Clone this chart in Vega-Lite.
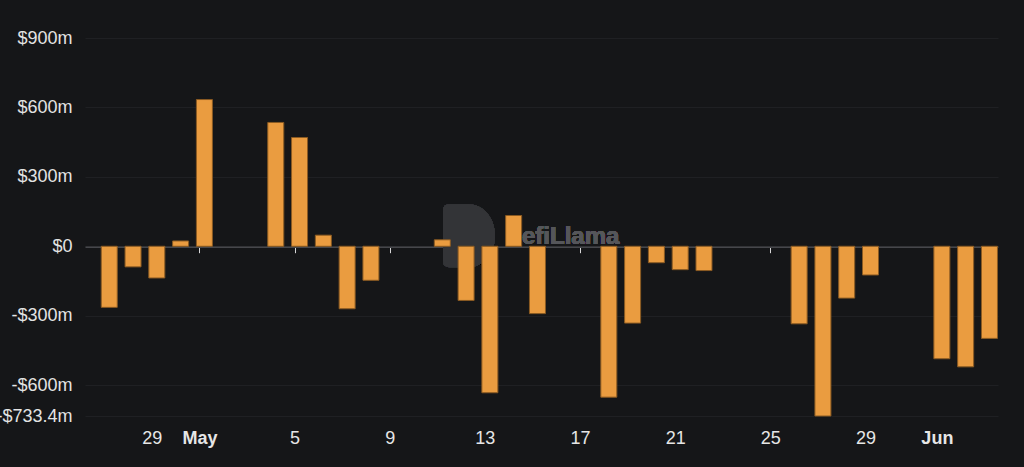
{
  "$schema": "https://vega.github.io/schema/vega-lite/v6.json",
  "width": 913,
  "height": 378,
  "autosize": {"type": "none"},
  "padding": {"left": 85, "top": 38, "right": 26, "bottom": 51},
  "background": "#151618",
  "config": {"view": {"stroke": null}, "font": "Liberation Sans"},
  "data": {
    "values": [
      {"date": "2024-04-27", "value": -264},
      {"date": "2024-04-28", "value": -89},
      {"date": "2024-04-29", "value": -137},
      {"date": "2024-04-30", "value": 23},
      {"date": "2024-05-01", "value": 634},
      {"date": "2024-05-04", "value": 535},
      {"date": "2024-05-05", "value": 470},
      {"date": "2024-05-06", "value": 48},
      {"date": "2024-05-07", "value": -270},
      {"date": "2024-05-08", "value": -147},
      {"date": "2024-05-11", "value": 28},
      {"date": "2024-05-12", "value": -234},
      {"date": "2024-05-13", "value": -633},
      {"date": "2024-05-14", "value": 133},
      {"date": "2024-05-15", "value": -291},
      {"date": "2024-05-18", "value": -652},
      {"date": "2024-05-19", "value": -332},
      {"date": "2024-05-20", "value": -71},
      {"date": "2024-05-21", "value": -101},
      {"date": "2024-05-22", "value": -105},
      {"date": "2024-05-26", "value": -335},
      {"date": "2024-05-27", "value": -733.4},
      {"date": "2024-05-28", "value": -224},
      {"date": "2024-05-29", "value": -124},
      {"date": "2024-06-01", "value": -486},
      {"date": "2024-06-02", "value": -521},
      {"date": "2024-06-03", "value": -398}
    ]
  },
  "layer": [
    {
      "mark": {
        "type": "point",
        "shape": "M -0.825 -0.8 Q -0.825 -1 -0.625 -1 L 0 -1 A 0.825 1 0 0 1 0 1 L -0.625 1 Q -0.825 1 -0.825 0.8 Z",
        "filled": true,
        "color": "#333437",
        "opacity": 1,
        "size": 3969
      },
      "encoding": {
        "x": {
          "datum": {"year": 2024, "month": 5, "date": 12, "hours": 8, "utc": true},
          "type": "temporal",
          "scale": {"type": "utc", "padding": 0, "domain": [{"year": 2024, "month": 4, "date": 26, "hours": 4, "minutes": 35, "utc": true}, {"year": 2024, "month": 6, "date": 3, "hours": 13, "minutes": 40, "utc": true}]}
        },
        "y": {"datum": 46, "type": "quantitative", "scale": {"domain": [-733.4, 900], "nice": false, "zero": false, "padding": 0}}
      }
    },
    {
      "mark": {
        "type": "text",
        "text": "efiLlama",
        "fontSize": 24,
        "fontWeight": "bold",
        "color": "#55565a",
        "align": "left",
        "baseline": "middle"
      },
      "encoding": {
        "x": {
          "datum": {"year": 2024, "month": 5, "date": 14, "hours": 13, "minutes": 28, "utc": true},
          "type": "temporal"
        },
        "y": {"datum": 40, "type": "quantitative"}
      }
    },
    {
      "mark": {
        "type": "bar",
        "color": "#EA9C40",
        "stroke": "#8a5a22",
        "strokeWidth": 1,
        "width": 16,
        "xOffset": 5
      },
      "encoding": {
        "x": {
          "field": "date",
          "type": "temporal",
          "scale": {"type": "utc", "padding": 0, "domain": [{"year": 2024, "month": 4, "date": 26, "hours": 4, "minutes": 35, "utc": true}, {"year": 2024, "month": 6, "date": 3, "hours": 13, "minutes": 40, "utc": true}]},
          "axis": {
            "title": null,
            "orient": "bottom",
            "offset": -169.3,
            "domain": true,
            "domainColor": "#46474b",
            "domainWidth": 1.5,
            "ticks": true,
            "tickSize": 6,
            "tickColor": "#d8d8d8",
            "tickWidth": 1,
            "grid": false,
            "labelPadding": 177,
            "labelFontSize": 18,
            "labelColor": "#e6e6e6",
            "labelFontWeight": {"condition": {"test": "utcdate(datum.value) == 1", "value": "bold"}, "value": "normal"},
            "labelExpr": "utcdate(datum.value) == 1 ? utcFormat(datum.value, '%b') : utcFormat(datum.value, '%-d')",
            "values": [
              {"year": 2024, "month": 4, "date": 29, "utc": true},
              {"year": 2024, "month": 5, "date": 1, "utc": true},
              {"year": 2024, "month": 5, "date": 5, "utc": true},
              {"year": 2024, "month": 5, "date": 9, "utc": true},
              {"year": 2024, "month": 5, "date": 13, "utc": true},
              {"year": 2024, "month": 5, "date": 17, "utc": true},
              {"year": 2024, "month": 5, "date": 21, "utc": true},
              {"year": 2024, "month": 5, "date": 25, "utc": true},
              {"year": 2024, "month": 5, "date": 29, "utc": true},
              {"year": 2024, "month": 6, "date": 1, "utc": true}
            ]
          }
        },
        "y": {
          "field": "value",
          "type": "quantitative",
          "scale": {"domain": [-733.4, 900], "nice": false, "zero": false, "padding": 0},
          "axis": {
            "title": null,
            "domain": false,
            "ticks": false,
            "grid": true,
            "gridColor": "#1f2023",
            "gridWidth": 1,
            "labelPadding": 13,
            "labelFontSize": 18,
            "labelColor": "#e3e3e3",
            "values": [900, 600, 300, 0, -300, -600, -733.4],
            "labelExpr": "datum.value == 0 ? '$0' : (datum.value < 0 ? '-$' + (-datum.value) + 'm' : '$' + datum.value + 'm')"
          }
        }
      }
    }
  ]
}
